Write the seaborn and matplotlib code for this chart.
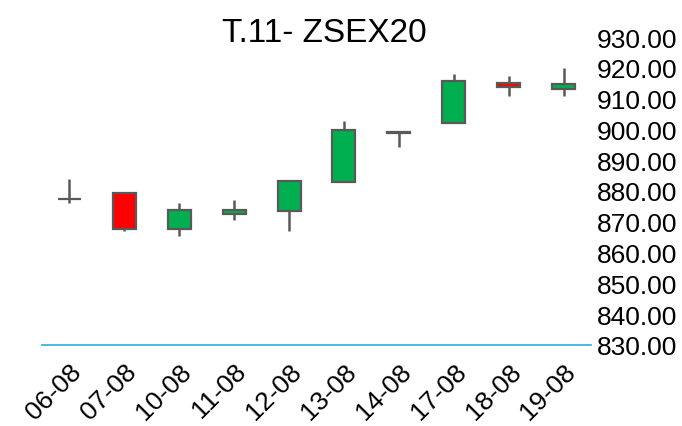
import matplotlib
matplotlib.use("Agg")
import matplotlib.pyplot as plt
import seaborn as sns

# Daily OHLC values
dates = ["06-08", "07-08", "10-08", "11-08", "12-08",
         "13-08", "14-08", "17-08", "18-08", "19-08"]
opens = [877.3, 879.2, 867.6, 872.6, 873.4, 883.0, 898.9, 902.0, 915.2, 913.0]
closes = [877.5, 867.6, 873.8, 873.9, 883.1, 899.7, 899.1, 915.7, 913.9, 914.7]
highs = [884.0, 879.8, 876.0, 876.9, 883.5, 902.8, 899.6, 917.9, 917.2, 919.9]
lows = [876.1, 867.0, 865.4, 870.4, 867.0, 883.0, 894.2, 902.0, 910.8, 910.8]

sns.set_style("white")
plt.rcParams["font.family"] = ["Liberation Sans", "DejaVu Sans"]
plt.rcParams["text.color"] = "black"
plt.rcParams["xtick.color"] = "black"
plt.rcParams["ytick.color"] = "black"

fig = plt.figure(figsize=(6.82, 4.27), dpi=100)
ax = fig.add_axes([0.0616, 0.19, 0.805, 0.721])

edge = "#595959"
x = list(range(len(dates)))
colors = []
for o, c in zip(opens, closes):
    if abs(c - o) < 0.5:
        colors.append(edge)
    elif c >= o:
        colors.append("#00B050")
    else:
        colors.append("#FF0000")

ax.vlines(x, lows, highs, color=edge, linewidth=1.8, zorder=1)
bottoms = [min(o, c) for o, c in zip(opens, closes)]
heights = [abs(c - o) for o, c in zip(opens, closes)]
ax.bar(x, heights, bottom=bottoms, width=0.42, color=colors,
       edgecolor=edge, linewidth=1.6, zorder=2)

ax.set_xlim(-0.5, len(dates) - 0.5)
ax.set_ylim(830, 930)
ax.set_yticks(range(830, 931, 10))
ax.set_yticklabels([f"{v:.2f}" for v in range(830, 931, 10)])
ax.yaxis.tick_right()
ax.set_xticks(x)
ax.set_xticklabels(dates, rotation=45, ha="right", rotation_mode="anchor")
ax.tick_params(axis="both", length=0, labelsize=19, pad=4, labelcolor="black")
ax.tick_params(axis="x", pad=10)

for side in ["top", "left", "right"]:
    ax.spines[side].set_visible(False)
ax.spines["bottom"].set_color("#29ABE2")
ax.spines["bottom"].set_linewidth(1.2)

ax.set_title("T.11- ZSEX20", fontsize=24, pad=-3, x=0.515, color="black")

fig.savefig("out.png", dpi=100)
